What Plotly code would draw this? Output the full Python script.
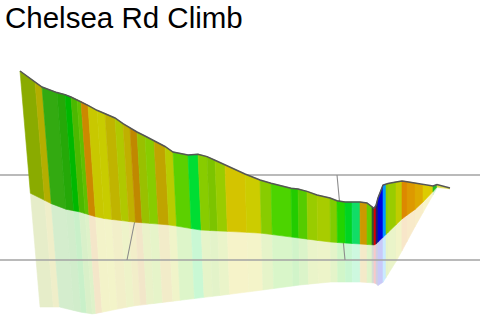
import numpy as np
import plotly.graph_objects as go

# ---- data (screen-projected profile) ----
# stripe boundaries along the climb (projected x) and top elevation (projected y)
seg_x = [20, 35, 42, 57, 65, 71, 77, 81, 88, 97, 105, 115, 123, 130, 137, 145, 154,
         165, 173, 188, 198, 207, 215, 225, 245, 260, 271, 291, 298, 307, 317, 330,
         337, 345, 352, 360, 367, 372, 374, 376, 378, 383, 386, 388, 396, 402, 407,
         415, 423, 433, 437, 450]
seg_top = [71, 82, 87, 92.6, 94.6, 97, 99.7, 101.5, 105.3, 110.3, 113.5, 118, 123.6,
           128, 132, 136, 140.8, 146.5, 152, 155, 154.2, 156.6, 160.3, 165, 174, 180,
           183.3, 188.2, 189, 191.4, 195, 198, 200.8, 202, 202, 202, 203, 207, 208.3,
           205.5, 198, 185, 184.1, 183.6, 182, 181.1, 181.7, 183, 185, 186, 184.6, 188]
# grade colour of each stripe
seg_color = ["#8aab00", "#b4ae00", "#33aa11", "#25a808", "#00b800", "#4cb800", "#60c000",
             "#cc8800", "#c8c800", "#c8cc00", "#c0b400", "#b0c800", "#c0b000", "#c08800",
             "#99c000", "#88cc00", "#c0a400", "#b8cc00", "#5cd000", "#00dd33", "#88cc00",
             "#7cc400", "#99cc00", "#d4c400", "#cccc00", "#88cc00", "#4cd400", "#22cc00",
             "#55cc00", "#99cc00", "#a8cc00", "#80cc00", "#22d400", "#00d422", "#11dd66",
             "#cc9900", "#66cc00", "#335533", "#dd0000", "#222266", "#0000dd", "#0099ff",
             "#88cc00", "#99cc00", "#c0cc00", "#dd8800", "#dd9900", "#ddaa00", "#ddcc00",
             "#22bb22", "#dddd44"]

# base edge of the wall and bottom edge of its pale floor (projected)
base_x = [30, 60, 80, 100, 133, 170, 200, 240, 260, 330, 375, 403, 417, 430, 437, 452]
base_y = [193, 208, 212, 218, 222, 225, 230, 232, 233, 242, 245, 218, 208, 195, 187, 189]
floor_x = [40, 60, 80, 93, 133, 240, 300, 330, 360, 375, 380, 397, 417, 437, 452]
floor_y = [307, 307, 312, 314, 306, 293, 285, 282, 282, 283, 287, 260, 223, 188, 189]

# grid lines (projected)
grid_h = [175, 260]
grid_s = [((136, 215), (127, 260)), ((337, 175), (345, 260))]

title_text = "Chelsea Rd Climb"


def slant(xt):
    return 0.085 * max(0.0, 375 - xt) / 355


def project(xt, yt, ex, ey):
    x = xt
    y = yt
    for _ in range(4):
        y = float(np.interp(x, ex, ey))
        x = xt + slant(xt) * (y - yt)
    return x, max(y, yt)


def pale(hexc, a):
    h = hexc.lstrip("#")
    r, g, b = int(h[0:2], 16), int(h[2:4], 16), int(h[4:6], 16)
    m = lambda v: int(round(255 * (1 - a) + v * a))
    return f"rgb({m(r)},{m(g)},{m(b)})"


wall_b = [project(x, t, base_x, base_y) for x, t in zip(seg_x, seg_top)]
floor_b = [project(x, t, floor_x, floor_y) for x, t in zip(seg_x, seg_top)]

fig = go.Figure()

# pale floor strips
for i, c in enumerate(seg_color):
    x0, y0 = wall_b[i]
    x1, y1 = wall_b[i + 1]
    x2, y2 = floor_b[i + 1]
    x3, y3 = floor_b[i]
    pc = pale(c, 0.21)
    fig.add_trace(go.Scatter(x=[x0, x1, x2, x3, x0], y=[y0, y1, y2, y3, y0],
                             mode="lines", fill="toself", fillcolor=pc,
                             line=dict(color=pc, width=0.6),
                             hoverinfo="skip", showlegend=False))

# grid lines
for y in grid_h:
    fig.add_trace(go.Scatter(x=[0, 480], y=[y, y], mode="lines",
                             line=dict(color="#a3a3a3", width=1.3),
                             hoverinfo="skip", showlegend=False))
for (a, b) in grid_s:
    fig.add_trace(go.Scatter(x=[a[0], b[0]], y=[a[1], b[1]], mode="lines",
                             line=dict(color="#8c8c8c", width=1.1),
                             hoverinfo="skip", showlegend=False))

# coloured wall strips
for i, c in enumerate(seg_color):
    xs = [seg_x[i], seg_x[i + 1], wall_b[i + 1][0], wall_b[i][0], seg_x[i]]
    ys = [seg_top[i], seg_top[i + 1], wall_b[i + 1][1], wall_b[i][1], seg_top[i]]
    fig.add_trace(go.Scatter(x=xs, y=ys, mode="lines", fill="toself",
                             fillcolor=c, line=dict(color=c, width=0.6),
                             hoverinfo="skip", showlegend=False))

# profile outline
fig.add_trace(go.Scatter(x=seg_x, y=seg_top, mode="lines",
                         line=dict(color="#555555", width=1.5),
                         hoverinfo="skip", showlegend=False))

fig.add_annotation(x=3, y=17, xref="x", yref="y", text=title_text, showarrow=False,
                   xanchor="left", yanchor="middle",
                   font=dict(family="Liberation Sans, Arial, sans-serif", size=29.5,
                             color="#000000"))

fig.update_layout(width=480, height=321, margin=dict(l=0, r=0, t=0, b=0),
                  paper_bgcolor="white", plot_bgcolor="white",
                  xaxis=dict(range=[0, 480], visible=False, fixedrange=True),
                  yaxis=dict(range=[321, 0], visible=False, fixedrange=True))

fig.write_html("out.html")
